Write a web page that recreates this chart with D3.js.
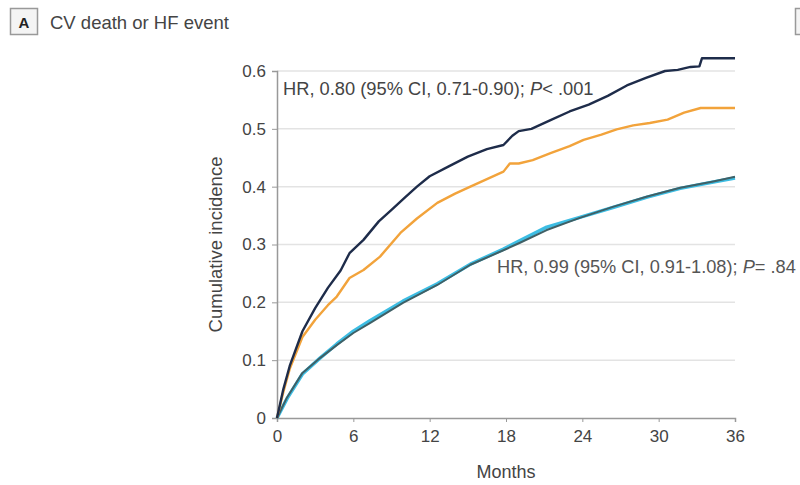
<!DOCTYPE html>
<html>
<head>
<meta charset="utf-8">
<script src="https://cdn.jsdelivr.net/npm/d3@7"></script>
<style>
  body { margin: 0; background: #fff; }
  svg { display: block; font-family: "Liberation Sans", Arial, sans-serif; }
</style>
</head>
<body>
<div id="chart"></div>
<script>
// tick values
const xTicks = [0, 6, 12, 18, 24, 30, 36];
const yTicks = [0, 0.1, 0.2, 0.3, 0.4, 0.5, 0.6];

// navy curve (HR 0.80 pair, upper)
const navyMonths = [0, 0.5, 1, 2, 3, 4, 5, 5.7, 6.8, 8, 9, 10, 11, 12, 13.5, 15, 16.5, 17.8, 18.5, 19, 20, 21.5, 23, 24.5, 26, 27.5, 29, 30.5, 31.5, 32.5, 33.2, 33.4, 36];
const navyValues = [0, 0.05, 0.09, 0.15, 0.19, 0.225, 0.255, 0.285, 0.308, 0.34, 0.36, 0.38, 0.40, 0.418, 0.435, 0.452, 0.465, 0.472, 0.488, 0.496, 0.50, 0.515, 0.53, 0.542, 0.557, 0.575, 0.588, 0.60, 0.602, 0.607, 0.608, 0.622, 0.622];

// orange curve (HR 0.80 pair, lower)
const orangeMonths = [0, 0.5, 1, 2, 3, 4, 4.7, 5.7, 6.8, 8.1, 9.7, 11, 12.6, 14, 15.2, 16.5, 17.8, 18.3, 19, 20.1, 21.5, 23, 24.1, 25.5, 26.7, 28, 29.3, 30.7, 32, 33.3, 36];
const orangeValues = [0, 0.045, 0.085, 0.14, 0.17, 0.195, 0.21, 0.242, 0.256, 0.279, 0.32, 0.345, 0.372, 0.388, 0.40, 0.413, 0.426, 0.44, 0.44, 0.446, 0.458, 0.47, 0.481, 0.49, 0.499, 0.506, 0.51, 0.516, 0.528, 0.536, 0.536];

// HR 0.99 pair (nearly overlapping)
const lowMonths = [0, 0.8, 2, 3.4, 4.7, 6, 7.3, 9.9, 12.6, 15.2, 17.8, 19.1, 21.2, 23.8, 26.4, 29.1, 31.7, 34.3, 36];
const cyanValues = [0, 0.034, 0.076, 0.104, 0.128, 0.15, 0.168, 0.202, 0.232, 0.266, 0.292, 0.307, 0.33, 0.347, 0.364, 0.382, 0.397, 0.408, 0.415];
const tealValues = [0, 0.036, 0.078, 0.104, 0.126, 0.147, 0.164, 0.199, 0.23, 0.265, 0.29, 0.303, 0.325, 0.346, 0.365, 0.383, 0.398, 0.409, 0.417];

const svg = d3.select('#chart').append('svg')
    .attr('width', 800)
    .attr('height', 485);

const x = d3.scaleLinear().domain([0, 36]).range([277, 735]);
const y = d3.scaleLinear().domain([0, 0.6]).range([418, 71]);

// panel title
svg.append('rect')
    .attr('x', 10.5).attr('y', 8.5).attr('width', 27).attr('height', 26)
    .attr('fill', '#f4f4f4').attr('stroke', '#999').attr('stroke-width', 1.5);
svg.append('text')
    .attr('x', 24).attr('y', 28)
    .attr('text-anchor', 'middle')
    .style('font-size', '15px').style('font-weight', 'bold').style('fill', '#222')
    .text('A');
svg.append('text')
    .attr('x', 50).attr('y', 29)
    .style('font-size', '18.5px').style('fill', '#444')
    .text('CV death or HF event');
// edge of next panel box
svg.append('rect')
    .attr('x', 795.5).attr('y', 8.5).attr('width', 27).attr('height', 26)
    .attr('fill', '#f4f4f4').attr('stroke', '#999').attr('stroke-width', 1.5);

// gridlines
svg.append('g')
    .selectAll('line')
    .data(yTicks.filter(d => d > 0))
    .join('line')
    .attr('x1', x(0)).attr('x2', x(36))
    .attr('y1', d => y(d)).attr('y2', d => y(d))
    .attr('stroke', '#e3e3e3').attr('stroke-width', 1.5);

// axes
const yAxis = svg.append('g')
    .attr('transform', `translate(${x(0)},0)`)
    .call(d3.axisLeft(y).tickValues(yTicks).tickFormat(d => d === 0 ? '0' : d3.format('.1f')(d)).tickSize(5).tickPadding(6));
const xAxis = svg.append('g')
    .attr('transform', `translate(0,${y(0)})`)
    .call(d3.axisBottom(x).tickValues(xTicks).tickSize(4).tickPadding(8));

[yAxis, xAxis].forEach(g => {
    g.select('.domain').attr('stroke', '#999').attr('stroke-width', 1.5);
    g.selectAll('.tick line').attr('stroke', '#999');
    g.selectAll('.tick text')
        .style('font-size', '17px')
        .style('font-family', '"Liberation Sans", Arial, sans-serif')
        .style('fill', '#444');
});

// axis titles
svg.append('text')
    .attr('transform', `translate(222,${(y(0) + y(0.6)) / 2}) rotate(-90)`)
    .attr('text-anchor', 'middle')
    .style('font-size', '18.5px').style('fill', '#444')
    .text('Cumulative incidence');
svg.append('text')
    .attr('x', 506).attr('y', 478)
    .attr('text-anchor', 'middle')
    .style('font-size', '18px').style('fill', '#444')
    .text('Months');

// curves
const line = d3.line()
    .x(d => x(d[0]))
    .y(d => y(d[1]));

const series = [
    { months: lowMonths, values: cyanValues, color: '#3dbde3', width: 3.5 },
    { months: lowMonths, values: tealValues, color: '#3f6066', width: 2 },
    { months: orangeMonths, values: orangeValues, color: '#f2a33b', width: 2.4 },
    { months: navyMonths, values: navyValues, color: '#1e2c4a', width: 2.4 }
];

svg.append('g')
    .selectAll('path')
    .data(series)
    .join('path')
    .attr('d', d => line(d.months.map((m, i) => [m, d.values[i]])))
    .attr('fill', 'none')
    .attr('stroke', d => d.color)
    .attr('stroke-width', d => d.width)
    .attr('stroke-linejoin', 'round');

// hazard ratio annotations
const hr1 = svg.append('text')
    .attr('x', 283).attr('y', 95)
    .style('font-size', '18.3px').style('fill', '#444');
hr1.append('tspan').text('HR, 0.80 (95% CI, 0.71-0.90); ');
hr1.append('tspan').style('font-style', 'italic').text('P');
hr1.append('tspan').text('< .001');

const hr2 = svg.append('text')
    .attr('x', 497).attr('y', 273)
    .style('font-size', '18.2px').style('fill', '#555');
hr2.append('tspan').text('HR, 0.99 (95% CI, 0.91-1.08); ');
hr2.append('tspan').style('font-style', 'italic').text('P');
hr2.append('tspan').text('= .84');
</script>
</body>
</html>
